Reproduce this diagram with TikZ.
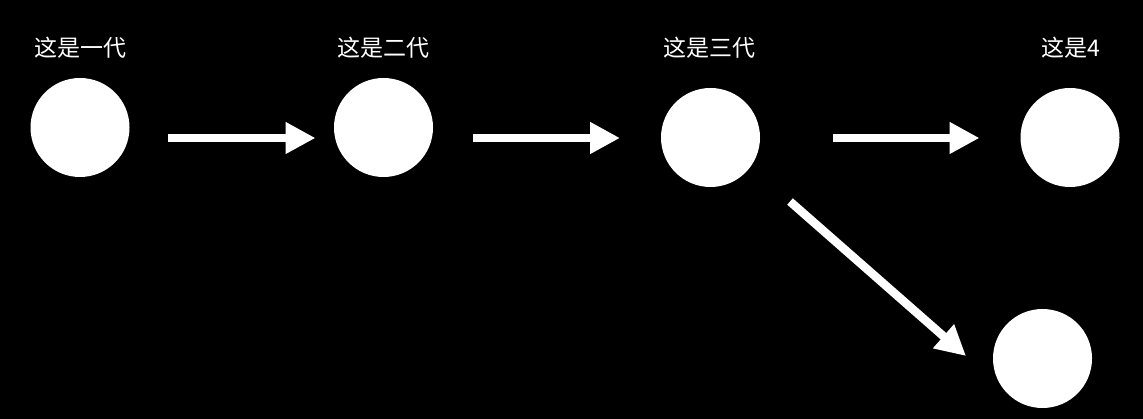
\documentclass[tikz,border=0pt]{standalone}
\usepackage{fontspec}
\newfontfamily\cjk{Noto Sans CJK SC}
\usetikzlibrary{arrows.meta}
\begin{document}
\begin{tikzpicture}[x=1pt,y=-1pt,
  gen/.style={circle,fill=white,minimum size=99pt,inner sep=0pt,outer sep=0pt},
  lbl/.style={text=white,font=\cjk\fontsize{23}{26}\selectfont,inner sep=0pt},
  arr/.style={draw=white,line width=8.5pt,-{Triangle[length=30pt,width=30pt]}}]
\fill[black] (0,0) rectangle (1143,419);
\useasboundingbox (0,0) rectangle (1143,419);
\node[gen] (c1) at (80,127.5) {};
\node[gen] (c2) at (383.5,127.5) {};
\node[gen] (c3) at (710.5,137.5) {};
\node[gen] (c4) at (1070,137.5) {};
\node[gen] (c5) at (1042.5,358.5) {};
\node[lbl] (l1) at (80,48) {这是一代};
\node[lbl] (l2) at (383,48) {这是二代};
\node[lbl] (l3) at (709.5,48) {这是三代};
\node[lbl] (l4) at (1070.5,48) {这是4};
\draw[arr] ([shift={(38.5,10.5)}]c1.east) -- ([shift={(-18.5,10.5)}]c2.west);
\draw[arr] ([shift={(39.5,0.5)}]c2.east |- c3.center) -- ([shift={(-41,0.5)}]c3.west);
\draw[arr] ([shift={(72.5,0.5)}]c3.east) -- ([shift={(-41,0.5)}]c4.west);
\draw[arr] ([shift={(79.5,64)}]c3.center) -- ([shift={(-76.5,-2.5)}]c5.center);
\end{tikzpicture}
\end{document}
